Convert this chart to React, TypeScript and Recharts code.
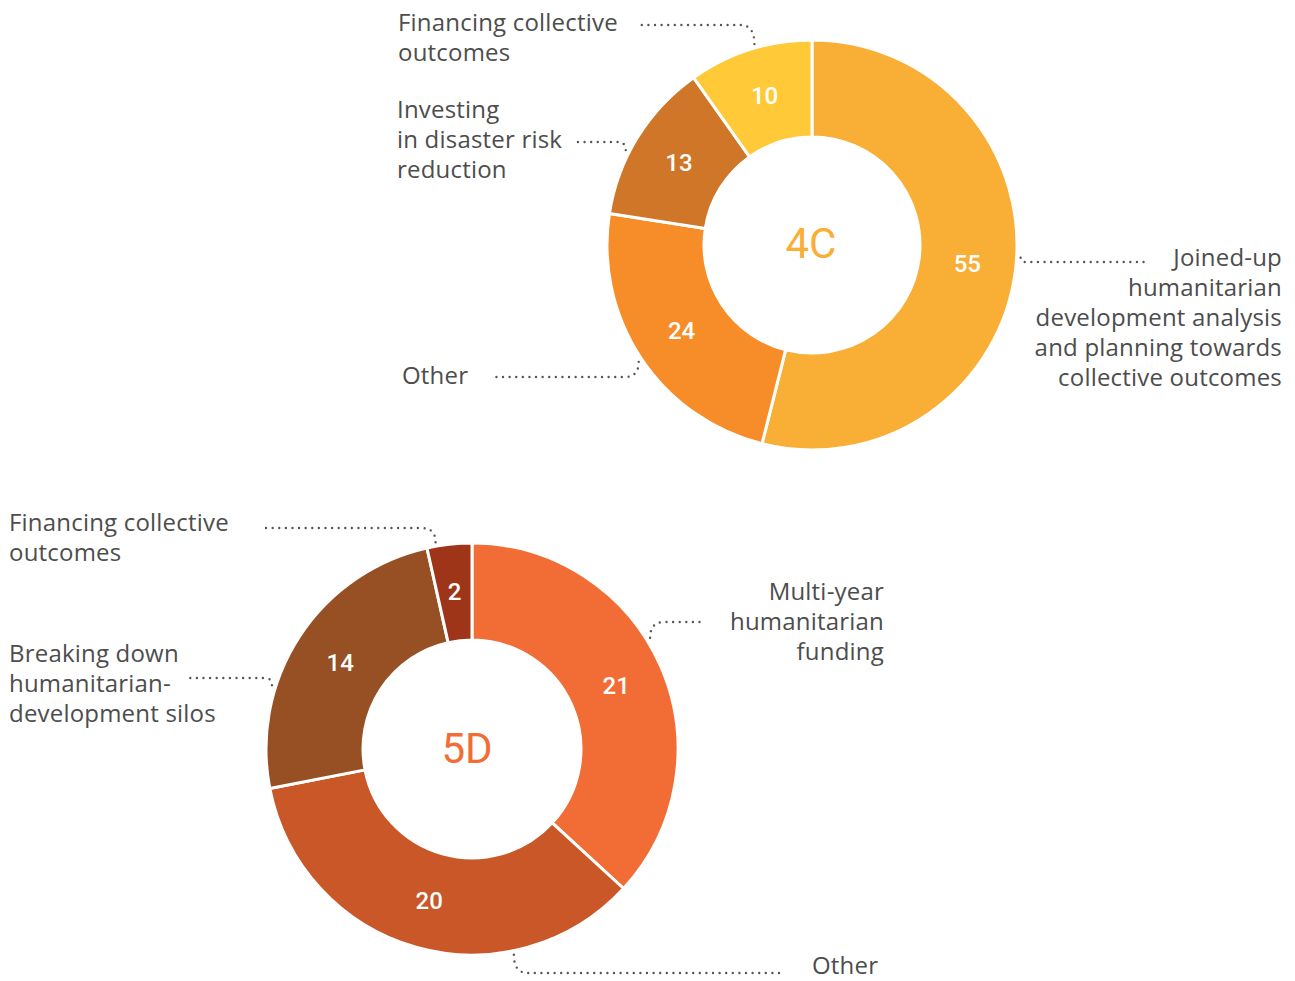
import React from 'react'
import { PieChart, Pie, Cell } from 'recharts'

// 4C — clockwise from 12 o'clock
const categories4C = ['Joined-up', 'Other', 'Investing', 'Financing']
const values4C = [55, 24, 13, 10]
const labels4C = [
  ['Joined-up', 'humanitarian', 'development analysis', 'and planning towards', 'collective outcomes'],
  ['Other'],
  ['Investing', 'in disaster risk', 'reduction'],
  ['Financing collective', 'outcomes'],
]
const colors4C = ['#F9AE35', '#F68D28', '#CF7628', '#FFC938']

// 5D — clockwise from 12 o'clock
const categories5D = ['Multi-year', 'Other', 'Breaking down', 'Financing']
const values5D = [21, 20, 14, 2]
const labels5D = [
  ['Multi-year', 'humanitarian', 'funding'],
  ['Other'],
  ['Breaking down', 'humanitarian-', 'development silos'],
  ['Financing collective', 'outcomes'],
]
const colors5D = ['#F26D35', '#C95728', '#965024', '#9E3519']

// callout placement (angle = degrees clockwise from top where the dotted line leaves the ring)
const callouts4C = [
  { angle: 93.5, elbowY: 262, endX: 1145, textX: 1282, textY: 266, anchor: 'end' },
  { angle: 236, elbowY: 377, endX: 493, textX: 402, textY: 384, anchor: 'start' },
  { angle: 297, elbowY: 142, endX: 575, textX: 397, textY: 118, anchor: 'start' },
  { angle: 344, elbowY: 25, endX: 638, textX: 398, textY: 31, anchor: 'start' },
]
const callouts5D = [
  { angle: 58, elbowY: 622, endX: 703, textX: 884, textY: 600, anchor: 'end' },
  { angle: 168.5, elbowY: 973, endX: 780, textX: 812, textY: 974, anchor: 'start' },
  { angle: 287.7, elbowY: 678, endX: 188, textX: 9, textY: 662, anchor: 'start' },
  { angle: 350, elbowY: 528, endX: 262, textX: 9, textY: 531, anchor: 'start' },
]

const RAD = Math.PI / 180
const TEXT = '#4D4D4D'
const LABEL_FONT = '"Open Sans", Lato, sans-serif'
const NUM_FONT = 'Roboto, "DejaVu Sans Condensed", sans-serif'

const makeLabel = (lines: string[][], callouts: any[]) => (props: any) => {
  const { cx, cy, midAngle, innerRadius, outerRadius, index, value } = props
  const mid = (innerRadius + outerRadius) / 2
  const vx = cx + mid * Math.cos(-midAngle * RAD)
  const vy = cy + mid * Math.sin(-midAngle * RAD)
  const c = callouts[index]
  const r = outerRadius + 4
  const sx = cx + r * Math.sin(c.angle * RAD)
  const sy = cy - r * Math.cos(c.angle * RAD)
  const dir = c.endX > sx ? 1 : -1
  const bend = Math.min(Math.abs(c.elbowY - sy), 14)
  const d = `M${sx},${sy} Q${sx},${c.elbowY} ${sx + dir * bend},${c.elbowY} L${c.endX},${c.elbowY}`
  return (
    <g>
      <text
        x={vx}
        y={vy}
        fill="#fff"
        textAnchor="middle"
        dominantBaseline="central"
        fontFamily={NUM_FONT}
        fontWeight={500}
        fontSize={24}
      >
        {value}
      </text>
      <path
        d={d}
        fill="none"
        stroke="#555"
        strokeWidth={2.4}
        strokeLinecap="round"
        strokeDasharray="0 6.6"
      />
      <text
        x={c.textX}
        y={c.textY}
        fill={TEXT}
        textAnchor={c.anchor}
        fontFamily={LABEL_FONT}
        fontSize={24}
        letterSpacing={0.2}
      >
        {lines[index].map((ln, i) => (
          <tspan key={i} x={c.textX} dy={i === 0 ? 0 : 30}>
            {ln}
          </tspan>
        ))}
      </text>
    </g>
  )
}

const data4C = categories4C.map((name, i) => ({ name, value: values4C[i] }))
const data5D = categories5D.map((name, i) => ({ name, value: values5D[i] }))

const App: React.FC = () => {
  return (
    <div style={{ position: 'absolute', left: 0, top: 0, background: '#fff' }}>
      <PieChart width={1295} height={981} margin={{ top: 0, right: 0, bottom: 0, left: 0 }}>
        <Pie
          data={data4C}
          dataKey="value"
          cx={812}
          cy={245}
          innerRadius={108}
          outerRadius={205}
          startAngle={90}
          endAngle={-270}
          stroke="#fff"
          strokeWidth={3}
          label={makeLabel(labels4C, callouts4C)}
          labelLine={false}
          isAnimationActive={false}
        >
          {data4C.map((_, i) => (
            <Cell key={i} fill={colors4C[i]} />
          ))}
        </Pie>
        <Pie
          data={data5D}
          dataKey="value"
          cx={472}
          cy={749}
          innerRadius={109}
          outerRadius={206}
          startAngle={90}
          endAngle={-270}
          stroke="#fff"
          strokeWidth={3}
          label={makeLabel(labels5D, callouts5D)}
          labelLine={false}
          isAnimationActive={false}
        >
          {data5D.map((_, i) => (
            <Cell key={i} fill={colors5D[i]} />
          ))}
        </Pie>
        <text x={811} y={258} textAnchor="middle" fill="#F9AE35" fontFamily={NUM_FONT} fontSize={42}>
          4C
        </text>
        <text x={467} y={763} textAnchor="middle" fill="#F26D35" fontFamily={NUM_FONT} fontSize={42}>
          5D
        </text>
      </PieChart>
    </div>
  )
}

export default App
